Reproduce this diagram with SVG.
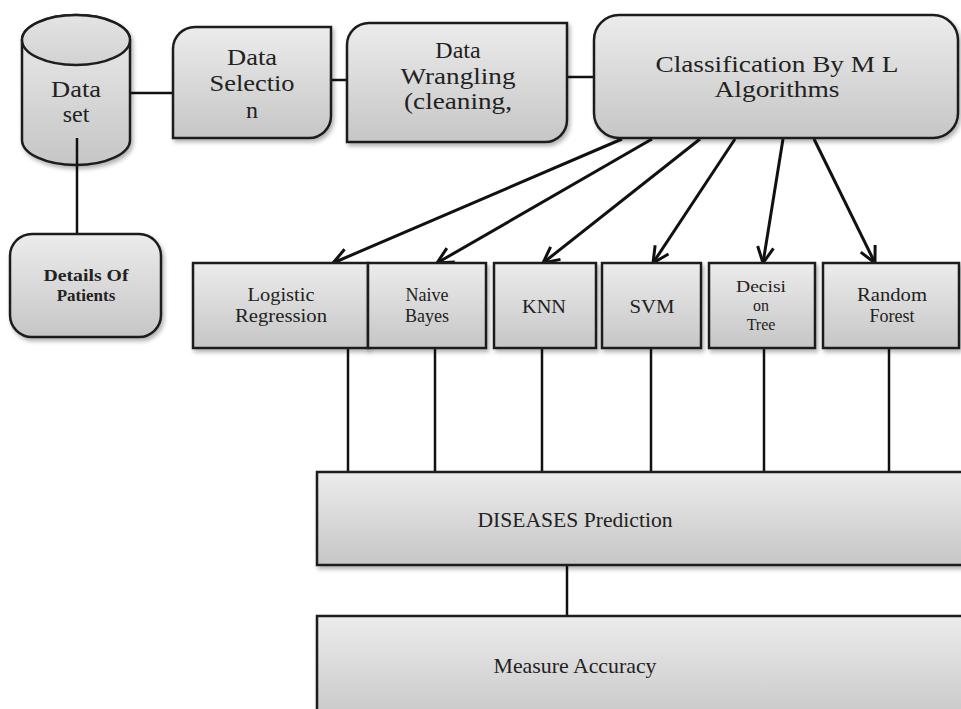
<svg xmlns="http://www.w3.org/2000/svg" width="961" height="709" viewBox="0 0 961 709">
<defs>
  <linearGradient id="g" x1="0" y1="0" x2="0" y2="1">
    <stop offset="0" stop-color="#ececec"/>
    <stop offset="1" stop-color="#c6c6c6"/>
  </linearGradient>
  <linearGradient id="gt" x1="0" y1="0" x2="0" y2="1">
    <stop offset="0" stop-color="#e4e4e4"/>
    <stop offset="1" stop-color="#d2d2d2"/>
  </linearGradient>
  <filter id="sh" x="-10%" y="-10%" width="125%" height="130%">
    <feDropShadow dx="2" dy="3" stdDeviation="2" flood-color="#000" flood-opacity="0.3"/>
  </filter>
  <marker id="arr" viewBox="0 0 20 20" refX="18" refY="10" markerWidth="20" markerHeight="20" markerUnits="userSpaceOnUse" orient="auto">
    <path d="M2,2 L18,10 L2,18" fill="none" stroke="#111" stroke-width="3" stroke-linejoin="miter"/>
  </marker>
  <clipPath id="wclip"><rect x="347" y="23" width="220" height="104"/></clipPath>
</defs>
<style>
  .box{fill:url(#g);stroke:#1e1e1e;stroke-width:2.5;filter:url(#sh)}
  .t{font-family:"Liberation Serif","Times New Roman",serif;fill:#222;text-anchor:middle}
  .big{font-size:24px}
  .mid{font-size:18px}
  .sm{font-size:16px}
  .wide{font-size:21px}
  .con line{stroke:#111;stroke-width:2.5;fill:none}
  .arrows line{stroke:#111;stroke-width:3;fill:none;marker-end:url(#arr)}
</style>
<rect width="961" height="709" fill="#fff"/>

<g id="connectors" class="con">
  <line x1="130" y1="93" x2="173" y2="93"/>
  <line x1="331" y1="80" x2="347" y2="80"/>
  <line x1="567" y1="77" x2="594" y2="77"/>
  <line x1="77" y1="138" x2="77" y2="234"/>
  <line x1="348" y1="348" x2="348" y2="472"/>
  <line x1="435" y1="348" x2="435" y2="472"/>
  <line x1="542" y1="348" x2="542" y2="472"/>
  <line x1="651" y1="348" x2="651" y2="472"/>
  <line x1="764" y1="348" x2="764" y2="472"/>
  <line x1="889" y1="348" x2="889" y2="472"/>
  <line x1="567" y1="565" x2="567" y2="616"/>
  <g class="arrows">
    <line x1="622" y1="139" x2="333" y2="263"/>
    <line x1="652" y1="139" x2="437" y2="263"/>
    <line x1="700" y1="139" x2="543" y2="263"/>
    <line x1="735" y1="139" x2="653" y2="263"/>
    <line x1="783" y1="139" x2="763" y2="263"/>
    <line x1="814" y1="139" x2="875" y2="263"/>
  </g>
</g>

<g id="dataset">
  <path class="box" d="M22,40 A54,25 0 0 1 130,40 V140 A54,25 0 0 1 22,140 Z"/>
  <ellipse cx="76" cy="40" rx="54" ry="25" fill="url(#gt)" stroke="#1e1e1e" stroke-width="2.5"/>
  <line x1="77" y1="138" x2="77" y2="165" stroke="#111" stroke-width="2.5"/>
  <text class="t big" x="76" y="97" textLength="50" lengthAdjust="spacingAndGlyphs">Data</text>
  <text class="t big" x="76" y="122">set</text>
</g>

<g id="data-selection">
  <path class="box" d="M173,49 A22,22 0 0 1 195,27 H331 V116 A22,22 0 0 1 309,138 H173 Z"/>
  <text class="t big" x="252" y="65" textLength="50" lengthAdjust="spacingAndGlyphs">Data</text>
  <text class="t big" x="252" y="91" textLength="85" lengthAdjust="spacingAndGlyphs">Selectio</text>
  <text class="t big" x="252" y="118">n</text>
</g>

<g id="data-wrangling">
  <path class="box" d="M347,45 A22,22 0 0 1 369,23 H567 V120 A22,22 0 0 1 545,142 H347 Z"/>
  <text class="t big" x="458" y="58">Data</text>
  <text class="t big" x="458" y="84" textLength="115" lengthAdjust="spacingAndGlyphs">Wrangling</text>
  <text class="t big" x="458" y="109" textLength="108" lengthAdjust="spacingAndGlyphs">(cleaning,</text>
  <text class="t big" x="458" y="143" clip-path="url(#wclip)" fill-opacity="0.6">missing</text>
</g>

<g id="classification">
  <rect class="box" x="594" y="15" width="364" height="123" rx="25"/>
  <text class="t big" x="777" y="72" textLength="243" lengthAdjust="spacingAndGlyphs">Classification By M L</text>
  <text class="t big" x="777" y="97" textLength="125" lengthAdjust="spacingAndGlyphs">Algorithms</text>
</g>

<g id="details">
  <rect class="box" x="10" y="234" width="151" height="103" rx="22"/>
  <text class="t" x="86" y="281" font-weight="bold" font-size="17" textLength="85" lengthAdjust="spacingAndGlyphs">Details Of</text>
  <text class="t" x="86" y="301" font-weight="bold" font-size="17">Patients</text>
</g>

<g id="logistic-regression">
  <rect class="box" x="193" y="263" width="175" height="85"/>
  <text class="t mid" x="281" y="301" textLength="67" lengthAdjust="spacingAndGlyphs">Logistic</text>
  <text class="t mid" x="281" y="322" textLength="92" lengthAdjust="spacingAndGlyphs">Regression</text>
</g>
<g id="naive-bayes">
  <rect class="box" x="368" y="263" width="118" height="85"/>
  <text class="t mid" x="427" y="301">Naive</text>
  <text class="t mid" x="427" y="322">Bayes</text>
</g>
<g id="knn">
  <rect class="box" x="494" y="263" width="102" height="85"/>
  <text class="t mid" x="544" y="313" textLength="44" lengthAdjust="spacingAndGlyphs">KNN</text>
</g>
<g id="svm">
  <rect class="box" x="602" y="263" width="99" height="85"/>
  <text class="t mid" x="652" y="313" textLength="45" lengthAdjust="spacingAndGlyphs">SVM</text>
</g>
<g id="decision-tree">
  <rect class="box" x="709" y="263" width="106" height="85"/>
  <text class="t sm" x="761" y="292" textLength="50" lengthAdjust="spacingAndGlyphs">Decisi</text>
  <text class="t sm" x="761" y="311">on</text>
  <text class="t sm" x="761" y="330">Tree</text>
</g>
<g id="random-forest">
  <rect class="box" x="823" y="263" width="136" height="85"/>
  <text class="t mid" x="892" y="301" textLength="70" lengthAdjust="spacingAndGlyphs">Random</text>
  <text class="t mid" x="892" y="322">Forest</text>
</g>

<g id="diseases-prediction">
  <rect class="box" x="317" y="472" width="660" height="93"/>
  <text class="t wide" x="575" y="527" textLength="195" lengthAdjust="spacingAndGlyphs">DISEASES Prediction</text>
</g>

<g id="measure-accuracy">
  <rect class="box" x="317" y="616" width="660" height="110"/>
  <text class="t wide" x="575" y="673" textLength="163" lengthAdjust="spacingAndGlyphs">Measure Accuracy</text>
</g>
</svg>
